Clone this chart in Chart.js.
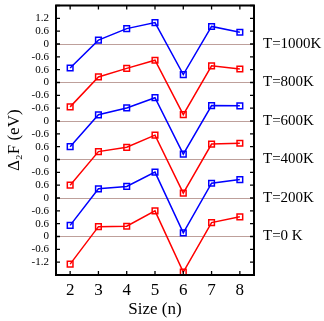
<!DOCTYPE html>
<html>
<head>
<meta charset="utf-8">
<script src="https://cdn.jsdelivr.net/npm/chart.js@4"></script>
<style>
  body { margin: 0; background: #fff; }
</style>
</head>
<body>
<canvas id="chart" width="324" height="321"></canvas>
<script>
// cluster size n
const sizes = [2, 3, 4, 5, 6, 7, 8];

// second difference of free energy (eV)
const d2F_0K    = [-1.29, 0.46, 0.48, 1.20, -1.66, 0.65, 0.92];
const d2F_200K  = [-1.28, 0.43, 0.54, 1.21, -1.63, 0.69, 0.86];
const d2F_400K  = [-1.20, 0.37, 0.57, 1.14, -1.57, 0.72, 0.76];
const d2F_600K  = [-1.20, 0.29, 0.61, 1.09, -1.55, 0.72, 0.71];
const d2F_800K  = [-1.14, 0.26, 0.66, 1.04, -1.50, 0.78, 0.63];
const d2F_1000K = [-1.12, 0.18, 0.72, 1.00, -1.43, 0.82, 0.55];

const tempLabels = ['T=0 K', 'T=200K', 'T=400K', 'T=600K', 'T=800K', 'T=1000K'];
const series = [d2F_0K, d2F_200K, d2F_400K, d2F_600K, d2F_800K, d2F_1000K];
const colors = ['#ff0000', '#0000ff'];

// each curve is shifted up by this much (eV)
const panelShift = 1.8;
const tickStep = 0.6;

// y tick labels from bottom to top, as printed in the figure
const yTickLabels = ['', '-1.2', '-0.6', '0', '0.6', '-0.6', '0', '0.6', '-0.6', '0', '0.6',
  '-0.6', '0', '-0.6', '-0.6', '0', '0.6', '-0.6', '0', '0.6', '1.2', ''];
const yMin = -1.8;
const yMax = yMin + (yTickLabels.length - 1) * tickStep;

const datasets = series.map((vals, k) => ({
  label: tempLabels[k],
  data: sizes.map((n, i) => ({ x: n, y: vals[i] + k * panelShift })),
  borderColor: colors[k % 2],
  backgroundColor: 'transparent',
  borderWidth: 1.5,
  pointStyle: 'rect',
  pointRadius: 4,
  pointBorderWidth: 1.5,
  pointBackgroundColor: 'transparent',
  pointBorderColor: colors[k % 2],
  tension: 0
}));

const serif = '"Liberation Serif", "Times New Roman", serif';

// black frame with ticks pointing inward
const framePlugin = {
  id: 'frame',
  afterDraw(chart) {
    const { ctx, chartArea: a, scales } = chart;
    ctx.save();
    ctx.strokeStyle = '#000';
    ctx.lineWidth = 1.3;
    ctx.beginPath();
    scales.y.ticks.forEach(t => {
      const py = scales.y.getPixelForValue(t.value);
      ctx.moveTo(a.left, py); ctx.lineTo(a.left + 4, py);
      ctx.moveTo(a.right, py); ctx.lineTo(a.right - 4, py);
    });
    scales.x.ticks.forEach(t => {
      const px = scales.x.getPixelForValue(t.value);
      ctx.moveTo(px, a.bottom); ctx.lineTo(px, a.bottom - 4);
      ctx.moveTo(px, a.top); ctx.lineTo(px, a.top + 4);
    });
    ctx.stroke();
    ctx.lineWidth = 2;
    ctx.strokeRect(a.left, a.top, a.right - a.left, a.bottom - a.top);
    ctx.restore();
  }
};

function isPanelZero(v) {
  const k = v / panelShift;
  return Math.abs(k - Math.round(k)) < 1e-6 && Math.round(k) >= 0 && Math.round(k) < series.length;
}

// keep the plot box fixed: no extra room for half tick labels
function noPad(scale) {
  scale.paddingTop = 0; scale.paddingBottom = 0;
  scale.paddingLeft = 0; scale.paddingRight = 0;
}

new Chart(document.getElementById('chart'), {
  type: 'line',
  data: { datasets },
  options: {
    responsive: false,
    animation: false,
    layout: { padding: { top: 2, bottom: 1, left: 0, right: 0 } },
    plugins: { legend: { display: false }, tooltip: { enabled: false } },
    scales: {
      x: {
        type: 'linear',
        min: 1.5,
        max: 8.5,
        afterBuildTicks(scale) { scale.ticks = sizes.map(v => ({ value: v })); },
        afterFit(scale) { scale.height = 45; noPad(scale); },
        grid: { display: false, drawTicks: false },
        border: { display: false },
        ticks: { color: '#000', padding: 5, maxRotation: 0, autoSkip: false, font: { family: serif, size: 17 } },
        title: { display: true, text: 'Size (n)', color: '#000', padding: 0, font: { family: serif, size: 17 } }
      },
      y: {
        type: 'linear',
        min: yMin,
        max: yMax,
        afterBuildTicks(scale) {
          scale.ticks = yTickLabels.map((_, i) => ({ value: yMin + i * tickStep }));
        },
        afterFit(scale) { scale.width = 56; noPad(scale); },
        grid: {
          drawTicks: false,
          color: ctx => isPanelZero(ctx.tick.value) ? 'rgb(190,160,155)' : 'transparent',
          lineWidth: 1
        },
        border: { display: false },
        ticks: {
          color: '#000',
          padding: 7,
          autoSkip: false,
          font: { family: serif, size: 11 },
          callback: (v, i) => yTickLabels[i]
        },
        title: { display: true, text: 'Δ₂F (eV)', color: '#000', padding: { top: 4, bottom: 0 }, font: { family: serif, size: 17 } }
      },
      y2: {
        type: 'linear',
        position: 'right',
        min: yMin,
        max: yMax,
        afterBuildTicks(scale) {
          scale.ticks = tempLabels.map((_, k) => ({ value: k * panelShift }));
        },
        afterFit(scale) { scale.width = 70; noPad(scale); },
        grid: { display: false, drawTicks: false },
        border: { display: false },
        ticks: {
          color: '#000',
          padding: 9,
          autoSkip: false,
          font: { family: serif, size: 15 },
          callback: (v, i) => tempLabels[i]
        }
      }
    }
  },
  plugins: [framePlugin]
});
</script>
</body>
</html>
